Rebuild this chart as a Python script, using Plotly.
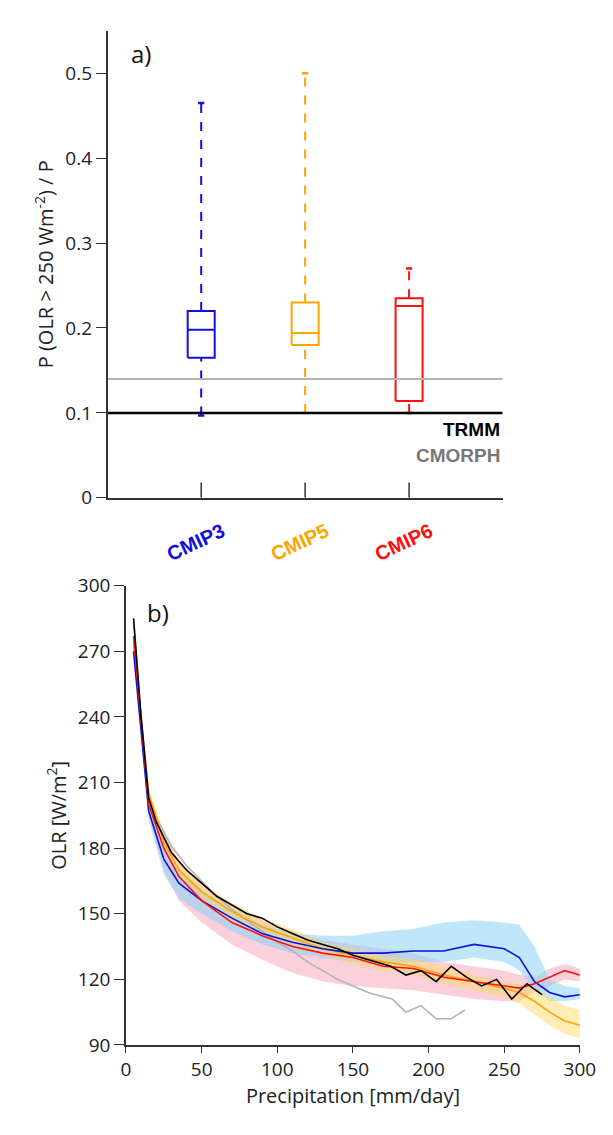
import plotly.graph_objects as go

W, H = 613, 1135

# ---- panel a data (box stats) ----
models = ["CMIP3", "CMIP5", "CMIP6"]
model_colors = ["#1010e0", "#ffa500", "#ff1010"]
box_min = [0.097, 0.100, 0.100]
box_q1 = [0.165, 0.180, 0.114]
box_med = [0.198, 0.194, 0.226]
box_q3 = [0.220, 0.230, 0.235]
box_max = [0.465, 0.500, 0.270]
trmm_value = 0.10
cmorph_value = 0.14

# ---- panel b data ----
obs_x = [5, 10, 15, 20, 30, 40, 50, 60, 70, 80, 90, 100, 110, 120, 130, 140, 150, 160, 170, 175,
         185, 195, 205, 215, 225, 235, 245, 255, 265, 275]
trmm_olr = [285, 240, 203, 192, 178, 170, 164, 158, 154, 150, 148, 144, 141, 138, 136, 134, 131, 129, 127, 126,
            122, 124, 119, 126, 121, 117, 120, 111, 118, 113]
cmorph_x = [5, 10, 15, 20, 30, 40, 50, 60, 70, 80, 90, 100, 110, 120, 130, 140, 150, 160, 165, 176,
            185, 195, 205, 215, 224]
cmorph_olr = [285, 240, 205, 194, 181, 172, 165, 158, 152, 147, 142, 137, 133, 128, 124, 120, 117, 114, 113, 111,
              105, 108, 102, 102, 106]

mod_x = [5, 15, 25, 35, 50, 70, 90, 110, 130, 150, 170, 190, 210, 230, 250, 260, 270, 280, 290, 300]
cmip3 = [270, 197, 175, 164, 156, 148, 141, 137, 134, 132, 132, 133, 133, 136, 134, 130, 119, 114, 112, 113]
cmip3_lo = [268, 193, 168, 157, 150, 142, 136, 132, 130, 128, 127, 128, 128, 130, 128, 124, 115, 110, 110, 111]
cmip3_hi = [272, 202, 180, 170, 161, 152, 145, 141, 140, 140, 142, 143, 146, 147, 146, 145, 135, 120, 117, 116]
cmip6 = [277, 200, 180, 167, 156, 146, 140, 135, 132, 130, 126, 125, 121, 119, 117, 116, 118, 121, 124, 122]
cmip6_lo = [270, 194, 170, 156, 146, 136, 129, 123, 119, 117, 116, 115, 113, 111, 110, 110, 114, 117, 120, 119]
cmip6_hi = [282, 205, 187, 174, 164, 154, 147, 142, 138, 136, 134, 132, 128, 126, 124, 122, 121, 125, 127, 125]
cmip5 = [274, 205, 183, 170, 160, 151, 144, 139, 134, 131, 128, 126, 122, 119, 116, 114, 110, 105, 101, 99]
cmip5_lo = [271, 201, 179, 166, 156, 147, 141, 136, 131, 127, 124, 122, 118, 115, 112, 109, 104, 99, 95, 93]
cmip5_hi = [278, 208, 187, 174, 164, 155, 148, 143, 137, 134, 131, 129, 126, 122, 119, 118, 116, 112, 108, 106]

FONT = "Open Sans"
fig = go.Figure()

# panel a boxes drawn as lines
hw = 0.13
cap = 0.03
for i, name in enumerate(models):
    xc = i + 1
    col = model_colors[i]
    fig.add_trace(go.Scatter(x=[xc - hw, xc + hw, xc + hw, xc - hw, xc - hw],
                             y=[box_q1[i], box_q1[i], box_q3[i], box_q3[i], box_q1[i]],
                             mode="lines", line=dict(color=col, width=2), xaxis="x", yaxis="y", showlegend=False))
    fig.add_trace(go.Scatter(x=[xc - hw, xc + hw], y=[box_med[i], box_med[i]], mode="lines",
                             line=dict(color=col, width=2), xaxis="x", yaxis="y", showlegend=False))
    for a, b in [(box_q3[i], box_max[i]), (box_min[i], box_q1[i])]:
        fig.add_trace(go.Scatter(x=[xc, xc], y=[a, b], mode="lines",
                                 line=dict(color=col, width=2, dash="dash"), xaxis="x", yaxis="y", showlegend=False))
    for v in [box_min[i], box_max[i]]:
        fig.add_trace(go.Scatter(x=[xc - cap, xc + cap], y=[v, v], mode="lines",
                                 line=dict(color=col, width=2.5), xaxis="x", yaxis="y", showlegend=False))

fig.add_trace(go.Scatter(x=[0.1, 3.9], y=[cmorph_value] * 2, mode="lines",
                         line=dict(color="#b4b4b4", width=2), xaxis="x", yaxis="y", showlegend=False))
fig.add_trace(go.Scatter(x=[0.1, 3.9], y=[trmm_value] * 2, mode="lines",
                         line=dict(color="black", width=2.5), xaxis="x", yaxis="y", showlegend=False))

# panel b bands
def band(lo, hi, color):
    fig.add_trace(go.Scatter(x=mod_x + mod_x[::-1], y=hi + lo[::-1], fill="toself", fillcolor=color,
                             line=dict(width=0), mode="lines", xaxis="x2", yaxis="y2", showlegend=False))

band(cmip6_lo, cmip6_hi, "rgba(248,170,190,0.55)")
band(cmip3_lo, cmip3_hi, "rgba(140,210,245,0.55)")
band(cmip5_lo, cmip5_hi, "rgba(255,215,90,0.45)")

for xs, ys, col in [(cmorph_x, cmorph_olr, "#b4b4b4"), (mod_x, cmip5, "#ffa500"), (mod_x, cmip3, "#1010e0"),
                    (mod_x, cmip6, "#ff1010"), (obs_x, trmm_olr, "black")]:
    fig.add_trace(go.Scatter(x=xs, y=ys, mode="lines", line=dict(color=col, width=1.6),
                             xaxis="x2", yaxis="y2", showlegend=False))

axcol = "#333"
tickfont = dict(family=FONT, size=19)
fig.update_layout(
    width=W, height=H, margin=dict(l=0, r=0, t=0, b=0),
    plot_bgcolor="white", paper_bgcolor="white",
    font=dict(family=FONT, size=19, color="#222"),
    xaxis=dict(domain=[98 / W, 507 / W], range=[0.1, 3.9], showticklabels=False, ticks="",
               showline=True, linecolor=axcol, linewidth=1.5,
               showgrid=False, zeroline=False, anchor="y"),
    yaxis=dict(domain=[(H - 488) / H, (H - 10) / H], range=[0, 0.55], tickvals=[0, 0.1, 0.2, 0.3, 0.4, 0.5],
               ticktext=["0", "0.1", "0.2", "0.3", "0.4", "0.5"], tickfont=tickfont,
               ticks="outside", ticklen=10, tickcolor=axcol, showline=True, linecolor=axcol, linewidth=1.5,
               showgrid=False, zeroline=False, anchor="x",
               title=dict(text="P (OLR > 250 Wm<sup>-2</sup>) / P", font=dict(size=20), standoff=6)),
    xaxis2=dict(domain=[117 / W, 587 / W], range=[0, 300], tickvals=[0, 50, 100, 150, 200, 250, 300],
                tickfont=tickfont,
                ticks="outside", ticklen=6, tickcolor=axcol, showline=True, linecolor=axcol, linewidth=1.5,
                showgrid=False, zeroline=False, anchor="y2",
                title=dict(text="Precipitation [mm/day]", font=dict(size=20), standoff=4)),
    yaxis2=dict(domain=[(H - 1048) / H, (H - 578) / H], range=[90, 300], tickvals=list(range(90, 301, 30)),
                tickfont=tickfont,
                ticks="outside", ticklen=10, tickcolor=axcol, showline=True, linecolor=axcol, linewidth=1.5,
                showgrid=False, zeroline=False, anchor="x2",
                title=dict(text="OLR [W/m<sup>2</sup>]", font=dict(size=20), standoff=6)),
)

# inward category ticks on panel a
for i in range(len(models)):
    fig.add_shape(type="line", xref="x", yref="y", x0=i + 1, x1=i + 1, y0=0, y1=0.018,
                  line=dict(color=axcol, width=1.5))

ann = [
    dict(text="a)", x=120 / W, y=1 - 33 / H, xref="paper", yref="paper", showarrow=False,
         font=dict(size=24, color="#111"), xanchor="left", yanchor="middle"),
    dict(text="b)", x=137 / W, y=1 - 605 / H, xref="paper", yref="paper", showarrow=False,
         font=dict(size=24, color="#111"), xanchor="left", yanchor="middle"),
    dict(text="<b>TRMM</b>", x=506 / W, y=1 - 418 / H, xref="paper", yref="paper", showarrow=False,
         font=dict(family="Liberation Sans", size=19, color="black"), xanchor="right", yanchor="middle"),
    dict(text="<b>CMORPH</b>", x=506 / W, y=1 - 445 / H, xref="paper", yref="paper", showarrow=False,
         font=dict(family="Liberation Sans", size=19, color="#777"), xanchor="right", yanchor="middle"),
]
for i, name in enumerate(models):
    ann.append(dict(text="<b>" + name + "</b>", x=i + 1 - 0.05, xref="x", y=1 - 533 / H, yref="paper",
                    showarrow=False, textangle=-25, font=dict(family="Liberation Sans", size=20, color=model_colors[i]),
                    xanchor="center", yanchor="middle"))
fig.update_layout(annotations=ann)

fig.write_html("out.html")
